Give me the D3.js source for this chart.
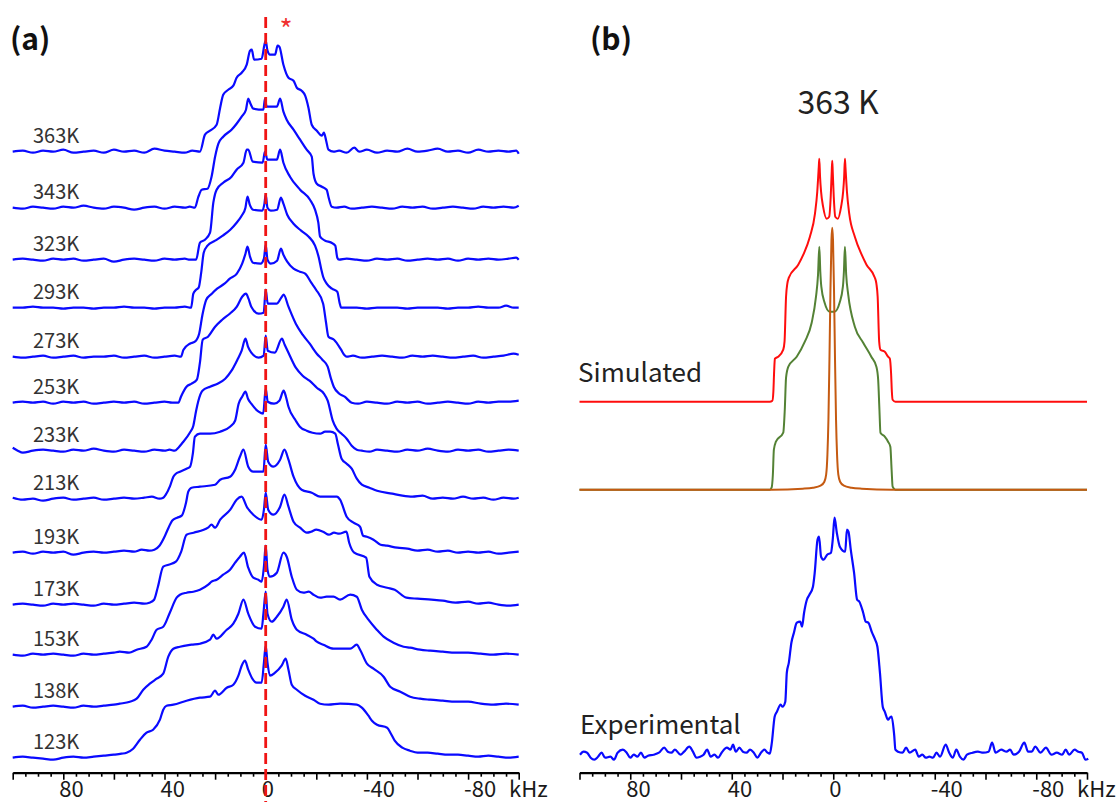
<!DOCTYPE html>
<html>
<head>
<meta charset="utf-8">
<script src="https://cdn.jsdelivr.net/npm/d3@7"></script>
<style>
  body { margin: 0; background: #fff; }
  svg text { font-family: "Noto Sans CJK SC", "Noto Sans", sans-serif; }
</style>
</head>
<body>
<svg id="chart" width="1119" height="802"></svg>
<script>
// ---- data (kHz, intensity) ----
var tempLabels = ["363K", "343K", "323K", "293K", "273K", "253K", "233K", "213K", "193K", "173K", "153K", "138K", "123K"];
var stackOffsets = [621, 565, 513, 465, 416, 370, 322, 274, 220, 168, 118, 66, 15];

var s363 = [[100,0],[96,1],[92,-1],[88,1],[84,0],[80,2],[76,-1],[72,0],[68,1],[64,-1],[60,2],[56,0],[52,1],[48,-1],[44,3],[40,1],[36,0],[32,-1],[29,1],
  [26,0],[24,17],[22,21],[19.4,27],[18,44],[16.8,57],[14.8,62],[12.8,66],[11.5,74],[9.5,79],[7.5,87],[6.2,101],[5.5,102],[4.6,92],[1.6,93],[0.5,107],[0,111],[-0.7,101],[-1.7,97],[-3.7,97],[-4.7,106],[-5.4,105],[-7,87],[-9,74],[-11,71],[-12.3,64],[-14.2,61],[-15.6,56],[-16.9,44],[-18.2,27],[-20.2,21],[-22.2,16],[-23,19],[-23.9,11],[-24.8,2],[-26.8,0],
  [-29,1],[-32,-1],[-35,4],[-37,0],[-40,2],[-44,-1],[-48,1],[-52,0],[-56,3],[-60,0],[-64,1],[-68,3],[-72,0],[-76,1],[-80,-1],[-84,2],[-88,0],[-92,1],[-96,0],[-99,1],[-100,-2]];
var s343 = [[100,0],[96,-1],[92,1],[88,0],[84,-1],[80,1],[76,0],[72,2],[68,0],[64,-1],[60,1],[56,0],[52,-2],[48,0],[44,1],[40,-1],[36,1],[32,0],[30,1],
  [28,0],[26.6,11],[25.3,18],[23,19],[21.4,31],[20,51],[18.7,64],[16.8,71],[13.5,78],[11.5,84],[9.5,91],[7.8,98],[6.9,109],[6,104],[4.9,99],[0.9,98],[0.3,109],[-0.4,101],[-4.4,101],[-5.7,109],[-7,96],[-8.3,88],[-11,78],[-13.6,68],[-16.2,58],[-18.2,51],[-18.9,34],[-20.2,24],[-22.2,21],[-24.1,18],[-24.8,11],[-26.1,1],
  [-28,0],[-31,1],[-34,-1],[-38,0],[-42,1],[-46,0],[-50,-1],[-54,1],[-58,0],[-62,1],[-66,-1],[-70,0],[-74,1],[-78,0],[-82,-1],[-86,1],[-90,0],[-94,1],[-98,0],[-100,2]];
var s323 = [[100,0],[96,1],[92,0],[88,-1],[84,1],[80,0],[76,1],[72,-1],[68,0],[64,1],[60,-2],[56,0],[52,1],[48,0],[44,-1],[40,1],[36,0],[32,1],[30,0],
  [27.5,0],[26,17],[24,20],[22,27],[20.7,57],[19.4,70],[16.8,77],[13.5,83],[11.5,90],[8.8,97],[7.5,110],[6.9,110],[5.1,98],[1.2,97],[0.3,108],[-0.7,100],[-4.4,100],[-5.7,110],[-7,97],[-9.6,83],[-13.6,70],[-17.5,60],[-19.5,50],[-20.8,37],[-21.5,23],[-23.5,19],[-26,17],[-27.5,14],[-28.3,2],[-29,0],
  [-32,1],[-36,0],[-40,-1],[-44,1],[-48,0],[-52,1],[-56,-1],[-60,0],[-64,1],[-68,0],[-72,1],[-76,-1],[-80,1],[-84,0],[-88,1],[-92,0],[-96,1],[-99,2],[-100,0]];
var s293 = [[100,0],[96,0],[92,1],[88,0],[84,0],[80,-1],[76,0],[72,0],[68,-1],[64,0],[60,0],[56,1],[52,0],[48,0],[44,-1],[40,0],[36,0],[32,1],
  [29.5,0],[28.6,14],[27.5,18],[26.5,20],[25.5,35],[24.5,55],[23,62],[20,67],[17,72],[14,78],[11.5,85],[9.5,92],[8,100],[7.2,111],[6.3,103],[5,98],[1.5,97],[0.5,104],[0,113],[-0.7,100],[-2,97],[-4.5,98],[-6,110],[-7,104],[-8.5,93],[-11,84],[-14,77],[-17,71],[-19.5,62],[-21,50],[-22,38],[-22.7,31],[-24.1,24],[-26.2,19],[-28.3,16],[-29.2,5],[-29.8,0],
  [-32,0],[-36,0],[-40,-1],[-44,0],[-48,0],[-52,0],[-56,-1],[-60,0],[-64,0],[-68,0],[-72,-1],[-76,0],[-80,0],[-84,1],[-88,0],[-92,0],[-95,2],[-98,0],[-100,0]];
var s273 = [[100,0],[96,-1],[92,0],[88,1],[84,-1],[80,0],[76,1],[72,-1],[68,0],[64,0],[60,1],[56,-1],[52,0],[48,1],[44,-1],[40,0],[36,1],
  [33.5,0],[32.5,7],[30,13],[28,15],[26.3,23],[25,42],[23.5,57],[21.3,63],[19.2,68],[16.3,73],[14.2,78],[11.4,83],[9.3,93],[8,103],[7.2,110],[6.2,100],[5,94],[2,93],[0.7,98],[0,112],[-0.7,97],[-2,93],[-4.5,96],[-6,108],[-7,102],[-8.5,95],[-11,88],[-13.5,85],[-15.6,83],[-18,74],[-19.9,67],[-22.7,53],[-23.8,35],[-24.8,20],[-27,17],[-29.8,7],[-31,2],[-32,0],
  [-34.5,1],[-38,-1],[-42,0],[-46,1],[-50,0],[-54,-1],[-58,1],[-62,0],[-66,1],[-70,0],[-74,-1],[-78,0],[-82,1],[-86,-1],[-90,0],[-94,1],[-98,3],[-100,2]];
var s253 = [[100,0],[96,1],[92,0],[88,1],[84,-1],[80,1],[76,0],[72,1],[68,-1],[64,0],[60,1],[56,0],[52,1],[48,-1],[44,0],[40,1],[37,0],
  [34.5,0],[33.5,6],[31.3,16],[29.3,19],[27.2,23],[26,40],[24.9,63],[22.8,66],[20,76],[17.2,83],[14.2,89],[11.4,96],[9.3,106],[7.8,109],[6.8,104],[5.7,96],[2.8,89],[0.8,90],[0,113],[-0.8,99],[-4.3,99],[-6.4,106],[-7.1,108],[-9,96],[-11.9,79],[-14.6,68],[-17.4,59],[-20.2,49],[-22.4,43],[-24.5,36],[-25.8,24],[-26.9,16],[-29.1,9],[-31.2,6],[-34,0],
  [-36.5,-1],[-40,1],[-44,0],[-48,-1],[-52,1],[-56,0],[-60,1],[-64,-1],[-68,0],[-72,1],[-76,0],[-80,-1],[-84,1],[-88,0],[-92,1],[-96,1],[-100,2]];
var s233 = [[100,3],[98,0],[96,-2],[92,0],[88,1],[84,0],[80,-1],[76,1],[72,0],[68,2],[64,0],[60,-1],[56,1],[52,0],[48,-1],[44,1],[40,0],[38,1],
  [36,0],[34.5,3],[33.2,7],[30,18],[28.6,25],[27.5,40],[26.6,50],[25,60],[22,64],[19,67],[16,72],[13.5,80],[11,92],[9.5,100],[8,112],[7,104],[5.7,98],[2.8,93],[0.8,95],[0,115],[-0.8,100],[-3.6,98],[-6.4,112],[-7.5,106],[-9,98],[-11.9,83],[-14.6,75],[-17.3,70],[-20.2,63],[-23,57],[-24.5,50],[-26.5,30],[-28,22],[-30,17],[-32,12],[-34,5],[-36,1],[-38,0],
  [-41,-1],[-44,1],[-48,0],[-52,-1],[-56,1],[-60,0],[-64,2],[-68,0],[-72,-1],[-76,1],[-80,0],[-84,1],[-88,-1],[-92,0],[-96,1],[-100,0]];
var s213 = [[100,1],[96,-1],[92,0],[88,-2],[84,0],[80,1],[76,-1],[72,0],[68,1],[64,-1],[60,0],[56,1],[52,0],[48,1],[45,2],
  [42,0],[40.5,1],[39.5,4],[37.9,12],[36.5,22],[35.5,25],[33.9,27],[31.3,30],[29.9,32],[28.8,45],[28,62],[26,65],[22,65],[18,67],[14.1,72],[12.1,78],[10.7,95],[9.3,102],[8,107],[7,100],[5.7,95],[2.8,87],[1,85],[0,110],[-0.8,97],[-3.3,95],[-5.4,98],[-7.1,108],[-8,102],[-9,92],[-11.9,78],[-13.5,72],[-16.2,68],[-18.5,66],[-21.5,65],[-23.5,67],[-25.5,67],[-27.5,65],[-28.5,55],[-30,40],[-32,35],[-34,30],[-36,20],[-38,14],[-41,11],[-44,8],[-50,5],[-54,3],[-58,2],[-62,3],[-66,0],
  [-70,1],[-74,0],[-78,2],[-82,0],[-86,1],[-90,-1],[-94,1],[-98,0],[-100,1]];
var s193 = [[100,0],[96,1],[92,-1],[88,1],[84,0],[80,1],[76,-2],[72,0],[68,1],[64,0],[60,1],[56,2],[52,1],[49,3],
  [46,2],[44,3],[42,7],[39.8,17],[38.4,25],[37,32],[35,35],[33.2,37],[31.5,50],[30.6,61],[29.3,65],[26,66],[20,68],[18,73],[14.1,76],[12.1,83],[10.2,96],[8.8,103],[6.9,86],[4.9,81],[0.9,81],[0,108],[-1,91],[-3,86],[-5.7,93],[-7.4,103],[-9,93],[-11,76],[-14.2,63],[-18.2,60],[-21.5,56],[-28.1,56],[-29.4,53],[-32,36],[-34.7,30],[-37.3,26],[-38.5,17],[-40,16],[-42.6,13],[-45.4,8],[-47.9,7],[-52,5],[-56,4],
  [-60,2],[-64,3],[-68,1],[-72,2],[-76,0],[-80,1],[-84,0],[-88,1],[-92,-1],[-96,0],[-100,1]];
var s173 = [[100,0],[96,1],[92,0],[88,-1],[84,1],[80,0],[76,1],[72,0],[68,-1],[64,1],[60,0],[56,1],[52,2],[48,1],
  [46,2],[44.1,5],[42.6,18],[40.5,38],[38.4,40],[35.5,43],[33.4,53],[31.3,70],[28.5,72],[22.8,77],[21.4,80],[20,77],[18,85],[14,95],[11.5,105],[9.5,108],[7.5,98],[4.9,90],[1.6,85],[0.7,95],[0,112],[-1,95],[-3,90],[-5.7,98],[-7.4,110],[-9,98],[-11,83],[-13.6,77],[-16.2,72],[-18,73],[-20,75],[-22.7,73],[-25,70],[-27,72],[-29,71],[-31.9,73],[-33,62],[-35,52],[-39.7,47],[-41,28],[-44,20],[-48,17],[-51,15],[-55.6,7],[-60,6],[-65.5,5],
  [-70,4],[-75,2],[-80,3],[-84,1],[-88,2],[-92,0],[-96,-1],[-100,0]];
var s153 = [[100,0],[96,-1],[92,1],[88,0],[84,1],[80,0],[76,-1],[72,1],[68,0],[64,1],[60,2],
  [57.7,3],[54,2],[51,5],[47.1,8],[45.1,15],[43.1,25],[40.5,28],[37.9,42],[35.2,57],[33.9,60],[31.3,62],[28.6,63],[26,65],[22.7,70],[21.4,73],[19.4,75],[16.8,80],[14.1,85],[12.1,92],[10.2,98],[8.6,102],[6.9,87],[4.9,77],[2.9,75],[1.6,73],[0.7,88],[0,109],[-0.7,85],[-1.7,78],[-4.4,82],[-7,102],[-8.3,98],[-10.3,78],[-12.3,65],[-14.9,62],[-17,63],[-18.9,60],[-21.5,57],[-24.1,58],[-26.8,58],[-29.4,55],[-33.4,60],[-36,58],[-38,45],[-40.6,35],[-43.9,25],[-46.6,18],[-50.5,12],[-54.5,8],[-57.1,7],
  [-61,5],[-65,4],[-70,3],[-75,2],[-80,2],[-85,1],[-90,0],[-95,1],[-100,0]];
var s138 = [[100,0],[96,1],[92,-1],[88,0],[84,1],[80,0],[76,-1],[72,1],[68,0],[64,1],[60,2],
  [57.7,3],[53.7,5],[51,8],[48.4,17],[45.8,23],[43.1,28],[40.5,33],[38.5,50],[36.5,58],[33.9,60],[29.3,62],[26,63],[22,67],[20.7,72],[19.4,68],[15.4,77],[12.8,83],[10.8,93],[8.8,107],[6.9,93],[4.2,80],[1.6,78],[0.9,93],[0,115],[-0.7,93],[-2.4,85],[-4.4,90],[-7,100],[-8.3,107],[-10.3,87],[-12.3,77],[-16.2,72],[-18.9,68],[-20.2,65],[-22.8,62],[-26.8,58],[-33.4,58],[-36,62],[-37.3,57],[-40,43],[-42.6,38],[-46.6,30],[-49.2,20],[-53.2,15],[-57.1,10],
  [-61,8],[-65,7],[-70,6],[-75,5],[-80,5],[-85,3],[-90,2],[-95,3],[-100,2]];
var s123 = [[100,0],[96,1],[92,0],[88,-1],[84,-2],[80,0],[76,1],[72,0],[68,1],[64,2],[60,3],
  [57,4],[55,5],[52.4,9],[49.7,18],[47.1,25],[44.5,28],[41.8,38],[40.5,48],[39.2,52],[36.5,53],[31.3,57],[26,60],[22,61],[20,67],[18.7,63],[15.4,70],[12.8,73],[10.8,82],[9.5,92],[8.2,97],[6.9,88],[5.5,80],[3.6,75],[1.6,75],[0.7,95],[0,112],[-0.7,95],[-1.7,82],[-3.7,85],[-6.3,92],[-7.9,99],[-9,88],[-10.3,73],[-12.3,68],[-15.6,62],[-18.9,58],[-21.5,54],[-24.8,53],[-29.4,54],[-36,53],[-38,50],[-40.6,42],[-42,37],[-44,33],[-48,30],[-49.5,24],[-51,17],[-54,10],[-57,7],
  [-60,5],[-64,5],[-68,4],[-72,3],[-76,3],[-80,2],[-84,1],[-88,2],[-92,1],[-96,0],[-100,1]];
var spectraA = [s363, s343, s323, s293, s273, s253, s233, s213, s193, s173, s153, s138, s123];

// panel (b): simulated components and the 363 K experiment
var simTotal = [[100,0],[25,0],[24,1],[23.6,10],[23.3,30],[23,43],[21.7,45],[19.7,52],[19.2,60],[18.6,105],[18.1,118],[17.5,124],[13.8,137],[11.8,147],[9.2,165],[7.2,188],[6.3,210],[5.7,235],[5.5,243],[5.2,225],[4.8,210],[4,195],[2.6,183],[1.6,185],[1,205],[0.6,230],[0.4,241],[0.2,230],[-0.2,205],[-0.8,185],[-1.8,183],[-3.1,195],[-3.9,210],[-4.3,225],[-4.6,243],[-4.8,235],[-5.4,210],[-6.3,188],[-8.5,165],[-11.2,147],[-13.1,137],[-16.4,124],[-17,118],[-17.5,105],[-18.1,60],[-18.6,52],[-20.3,50],[-21.6,45],[-22.3,43],[-22.8,28],[-23.1,10],[-23.4,2],[-24.5,0],[-100,0]];
var simPowder = [[100,0],[25,0],[24.3,2],[23.8,15],[23.4,40],[22.6,48],[19.7,57],[19.1,80],[18.6,112],[17.7,123],[14.4,133],[11.2,148],[8.5,167],[6.8,193],[6,215],[5.5,243],[5.1,218],[4.7,203],[3.4,187],[1.4,178],[-0.5,178],[-2.5,187],[-3.8,203],[-4.2,218],[-4.6,243],[-5.1,215],[-5.9,195],[-8.5,163],[-11.8,147],[-15,133],[-17,123],[-17.7,110],[-18.2,80],[-18.6,57],[-20.3,53],[-21.6,48],[-22.5,43],[-23,20],[-23.4,3],[-24.5,0],[-100,0]];
var simIso = [[100,0],[24,0],[12,1],[8,2],[5,4],[3.5,8],[2.8,15],[2.3,35],[1.9,70],[1.5,130],[1.1,200],[0.7,250],[0.4,262],[0.1,250],[-0.3,200],[-0.7,130],[-1.1,70],[-1.5,35],[-2,15],[-2.7,8],[-4.2,4],[-7.2,2],[-11.2,1],[-23.2,0],[-100,0]];
var exp363 = [[99.8,0],[98.4,3],[97,2],[95.6,-3],[94.2,-5],[92.7,-2],[91.3,2],[89.9,-3],[87.8,-2],[86.4,-5],[85,2],[82.9,5],[81.4,2],[80,-3],[78.6,0],[77.2,-2],[75.8,2],[74.4,-3],[73,-1],[70.8,0],[68.7,2],[66.6,7],[65.2,3],[63.8,2],[62.4,5],[60.2,0],[58.8,3],[56.7,8],[55.3,3],[53.9,-3],[52.5,-2],[51.1,0],[49.7,5],[48.3,-2],[46.8,0],[45.4,-3],[44,2],[41.9,7],[40.5,5],[39.5,10],[38.4,3],[37,7],[35.6,3],[34.2,2],[32.8,5],[31.3,2],[29.9,-3],[28.5,2],[27.1,5],[25.9,2],
  [25,1],[24.2,12],[23.1,38],[22.2,43],[20.7,50],[20,48],[18.9,53],[18.3,82],[17.5,92],[16.5,112],[15.5,122],[14.4,132],[13,133],[12.3,128],[11.5,142],[10.4,155],[9.4,160],[8,168],[7.3,182],[6.2,215],[5.6,218],[4.8,198],[3.8,195],[2.4,200],[0.9,202],[0.2,215],[-0.5,237],[-1.4,222],[-2.6,208],[-4.7,203],[-5.4,225],[-6,223],[-6.9,205],[-8.2,182],[-9.4,155],[-10.3,153],[-11.8,142],[-12.8,133],[-13.8,132],[-15.3,122],[-16.5,115],[-17.4,108],[-18.4,82],[-19.5,48],[-20.3,43],[-21.6,35],[-22.3,37],[-23,38],[-24,20],[-24.5,5],[-25.5,3],
  [-27.3,2],[-28.7,7],[-30.1,2],[-32.3,5],[-33.7,-2],[-35.1,0],[-36.5,-3],[-37.9,-2],[-39.3,-3],[-40.7,2],[-42.1,-2],[-44.3,10],[-45.7,2],[-47.1,-3],[-48.5,5],[-49.9,-2],[-51.3,-5],[-52.7,0],[-54.9,2],[-57,3],[-59.1,2],[-61.2,3],[-62.6,12],[-64,2],[-66.2,5],[-68.3,3],[-69.7,5],[-71.1,0],[-73.2,3],[-75.3,12],[-76.8,3],[-78.2,3],[-79.6,8],[-81.7,2],[-83.8,7],[-86,0],[-88.1,2],[-90.2,0],[-91.6,5],[-93,0],[-95.1,5],[-96.6,3],[-98,2],[-99.4,-5],[-100.5,-4]];
var simOffsets = { total: 371, powder: 283, iso: 283 };
var expOffset = 18;

var labeledTicks = [80, 40, 0, -40, -80];

// ---- layout ----
var axisY = 772.7;
var svg = d3.select("#chart");

var xA = d3.scaleLinear().domain([100, -100]).range([12.7, 518.7]);
var xB = d3.scaleLinear().domain([100, -100]).range([579.5, 1087]);
// one intensity unit per pixel, zero on the axis line
var y = d3.scaleLinear().domain([0, axisY]).range([axisY, 0]);

function spectrumLine(xs, off) {
  return d3.line()
    .x(function(d) { return xs(d[0]); })
    .y(function(d) { return y(off + d[1]); })
    .curve(d3.curveMonotoneX);
}

// draw a khz axis with short ticks every 5, longer every 20
function drawAxis(xs, x0) {
  var g = svg.append("g")
    .attr("transform", "translate(0," + axisY + ")")
    .call(d3.axisBottom(xs)
      .tickValues(d3.range(-100, 101, 5))
      .tickSize(4)
      .tickSizeOuter(0)
      .tickFormat(""));
  g.select(".domain").attr("stroke", "#000").attr("stroke-width", 2.2);
  g.selectAll(".tick line")
    .attr("stroke", "#000")
    .attr("stroke-width", 1.6)
    .attr("y2", function(d) { return d % 20 === 0 ? 7 : 4; });

  svg.append("g").selectAll("text")
    .data(labeledTicks)
    .enter()
    .append("text")
    .attr("x", function(d) { return xs(d) - 4; })
    .attr("y", 797)
    .attr("font-size", 22)
    .attr("fill", "#1a1a1a")
    .text(function(d) { return d; });

  svg.append("text")
    .attr("x", x0)
    .attr("y", 797)
    .attr("font-size", 22)
    .attr("fill", "#1a1a1a")
    .text("kHz");
}

// ---- panel (a) ----
drawAxis(xA, 509);

spectraA.forEach(function(s, i) {
  svg.append("path")
    .datum(s)
    .attr("fill", "none")
    .attr("stroke", "#0a0aff")
    .attr("stroke-width", 2.2)
    .attr("stroke-linejoin", "round")
    .attr("d", spectrumLine(xA, stackOffsets[i]));

  svg.append("text")
    .attr("x", 33)
    .attr("y", y(stackOffsets[i]) - 9)
    .attr("font-size", 20)
    .attr("fill", "#333")
    .text(tempLabels[i]);
});

// red reference line at 0 kHz
svg.append("line")
  .attr("x1", xA(0)).attr("x2", xA(0))
  .attr("y1", 17).attr("y2", 802)
  .attr("stroke", "#f01414")
  .attr("stroke-width", 2.8)
  .attr("stroke-dasharray", "11,5");

svg.append("text")
  .attr("x", 286)
  .attr("y", 40)
  .attr("text-anchor", "middle")
  .attr("font-size", 28)
  .attr("fill", "#f03030")
  .text("*");

svg.append("text")
  .attr("x", 10).attr("y", 50)
  .attr("font-size", 30).attr("font-weight", "bold")
  .attr("fill", "#111")
  .text("(a)");

// ---- panel (b) ----
drawAxis(xB, 1077);

svg.append("path").datum(simTotal)
  .attr("fill", "none").attr("stroke", "#ff0d0d").attr("stroke-width", 2)
  .attr("d", spectrumLine(xB, simOffsets.total));
svg.append("path").datum(simPowder)
  .attr("fill", "none").attr("stroke", "#548235").attr("stroke-width", 2)
  .attr("d", spectrumLine(xB, simOffsets.powder));
svg.append("path").datum(simIso)
  .attr("fill", "none").attr("stroke", "#c55a11").attr("stroke-width", 2)
  .attr("d", spectrumLine(xB, simOffsets.iso));
svg.append("path").datum(exp363)
  .attr("fill", "none").attr("stroke", "#0a0aff").attr("stroke-width", 2.2)
  .attr("stroke-linejoin", "round")
  .attr("d", spectrumLine(xB, expOffset));

svg.append("text")
  .attr("x", 590).attr("y", 50)
  .attr("font-size", 30).attr("font-weight", "bold")
  .attr("fill", "#111")
  .text("(b)");

svg.append("text")
  .attr("x", 838).attr("y", 114)
  .attr("text-anchor", "middle")
  .attr("font-size", 32)
  .attr("fill", "#222")
  .text("363 K");

svg.append("text")
  .attr("x", 578).attr("y", 382)
  .attr("font-size", 26)
  .attr("fill", "#222")
  .text("Simulated");

svg.append("text")
  .attr("x", 580).attr("y", 734)
  .attr("font-size", 26)
  .attr("fill", "#222")
  .text("Experimental");
</script>
</body>
</html>
